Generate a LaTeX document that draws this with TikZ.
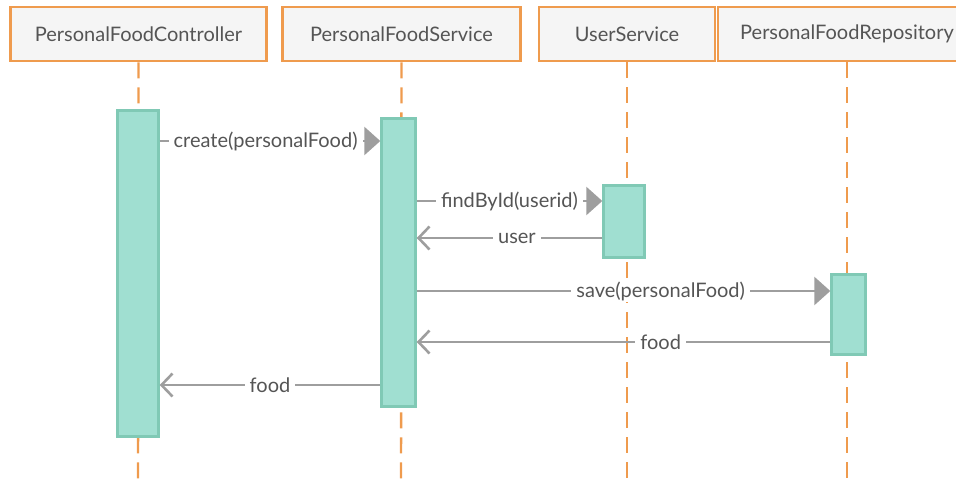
\documentclass[tikz,border=0pt]{standalone}
\usepackage{fontspec}
\setmainfont{Lato}
\usetikzlibrary{arrows.meta,calc}
\definecolor{hdrfill}{HTML}{F5F5F5}
\definecolor{hdrline}{HTML}{EF9B4E}
\definecolor{actfill}{HTML}{A0DFD1}
\definecolor{actline}{HTML}{80C9B5}
\definecolor{msgline}{HTML}{9E9E9E}
\definecolor{txt}{HTML}{555555}
\tikzset{
  header/.style={draw=hdrline, line width=2.6pt, fill=hdrfill, minimum height=54pt,
    text=txt, font=\fontsize{20}{22}\selectfont, inner sep=0pt},
  lifeline/.style={draw=hdrline, line width=2.4pt, dash pattern=on 16pt off 9pt},
  activation/.style={draw=actline, line width=2.4pt, fill=actfill, inner sep=0pt},
  msg/.style={draw=msgline, line width=2.6pt,
    -{Triangle[length=16pt,width=28pt]}},
  reply/.style={draw=msgline, line width=2.6pt,
    -{Straight Barb[length=11pt,width=23pt,line width=2.6pt]}},
  lbl/.style={fill=white, text=txt, font=\fontsize{20}{22}\selectfont,
    inner xsep=5pt, inner ysep=2pt},
}
\begin{document}
\begin{tikzpicture}[x=1pt,y=-1pt]
\useasboundingbox (0,0) rectangle (956,482);
\clip (0,0) rectangle (956,482);

% participants
\node[header, minimum width=256pt] (ctl) at (138.5,34) {PersonalFoodController};
\node[header, minimum width=238pt] (svc) at (401.5,34) {PersonalFoodService};
\node[header, minimum width=176pt] (usr) at (627,34) {UserService};
\node[header, minimum width=258pt] (rep) at (847,34) {PersonalFoodRepository};

% lifelines
\coordinate (ctlend) at (138,482);
\coordinate (svcend) at (401,482);
\coordinate (usrend) at (627,482);
\coordinate (repend) at (847,482);
\draw[lifeline] (ctl.south) -- (ctlend);
\draw[lifeline] (svc.south) -- (svcend);
\draw[lifeline] (usr.south) -- (usrend);
\draw[lifeline] (rep.south) -- (repend);

% activation bars
\node[activation, minimum width=41pt, minimum height=326pt] (a1) at (138,273.5) {};
\node[activation, minimum width=34pt, minimum height=288pt] (a2) at (398.5,262.5) {};
\node[activation, minimum width=41pt, minimum height=72pt] (a3) at (624,221.5) {};
\node[activation, minimum width=34pt, minimum height=80pt] (a4) at (848.5,314.5) {};

% messages
\draw[msg] (a1.east |- 0,141) -- node[lbl, pos=0.48] {create(personalFood)} (a2.west |- 0,141);
\draw[msg] (a2.east |- 0,201) -- node[lbl] {findById(userid)} (a3.west |- 0,201);
\draw[reply] (a3.west |- 0,238) -- node[lbl, pos=0.46] {user} (a2.east |- 0,238);
\draw[msg] (a2.east |- 0,291) -- node[lbl, pos=0.59] {save(personalFood)} (a4.west |- 0,291);
\draw[reply] (a4.west |- 0,342) -- node[lbl, pos=0.41] {food} (a2.east |- 0,342);
\draw[reply] (a2.west |- 0,385) -- node[lbl] {food} (a1.east |- 0,385);
\end{tikzpicture}
\end{document}
